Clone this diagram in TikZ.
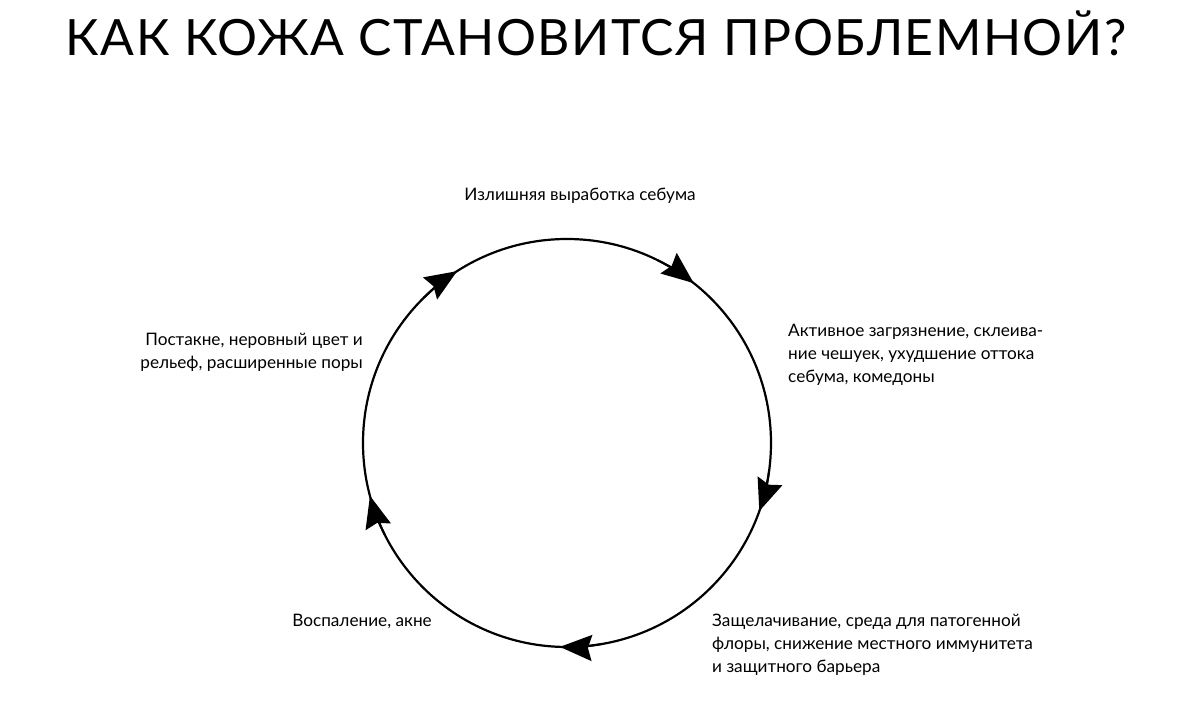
\documentclass[tikz,border=0pt]{standalone}
\usepackage{fontspec}
\setmainfont{Lato}
\usetikzlibrary{arrows.meta}
\tikzset{lbl/.style={font=\fontsize{17.2}{23}\selectfont, inner sep=0pt},
 tip/.style={line width=2pt,-{Stealth[length=32pt,width=26pt,inset=4pt]}}}
\begin{document}
\begin{tikzpicture}[x=1pt,y=1pt]
\useasboundingbox (0,0) rectangle (1200,709);
\node[inner sep=0pt,anchor=center] (title) at (596,676) {\fontsize{50}{52}\selectfont\addfontfeature{LetterSpace=3}КАК КОЖА СТАНОВИТСЯ ПРОБЛЕМНОЙ?};
\coordinate (c) at (567,266);
\draw[line width=2.2pt] (c) circle (204);
\foreach \a in {122.6,51.6,-19.5,-92,-165}{
  \draw[tip] ([shift={(\a+12:204)}]c) arc (\a+12:\a:204);
}
\node[lbl,anchor=north] (t1) at (580,521) {Излишняя выработка себума};
\node[lbl,anchor=north west,align=left] (t2) at (788,385) {Активное загрязнение, склеива-\\ние чешуек, ухудшение оттока\\себума, комедоны};
\node[lbl,anchor=north west,align=left] (t3) at (712,95) {Защелачивание, среда для патогенной\\флоры, снижение местного иммунитета\\и защитного барьера};
\node[lbl,anchor=north east] (t4) at (432,95) {Воспаление, акне};
\node[lbl,anchor=north east,align=right] (t5) at (363,376) {Постакне, неровный цвет и\\рельеф, расширенные поры};
\end{tikzpicture}
\end{document}
